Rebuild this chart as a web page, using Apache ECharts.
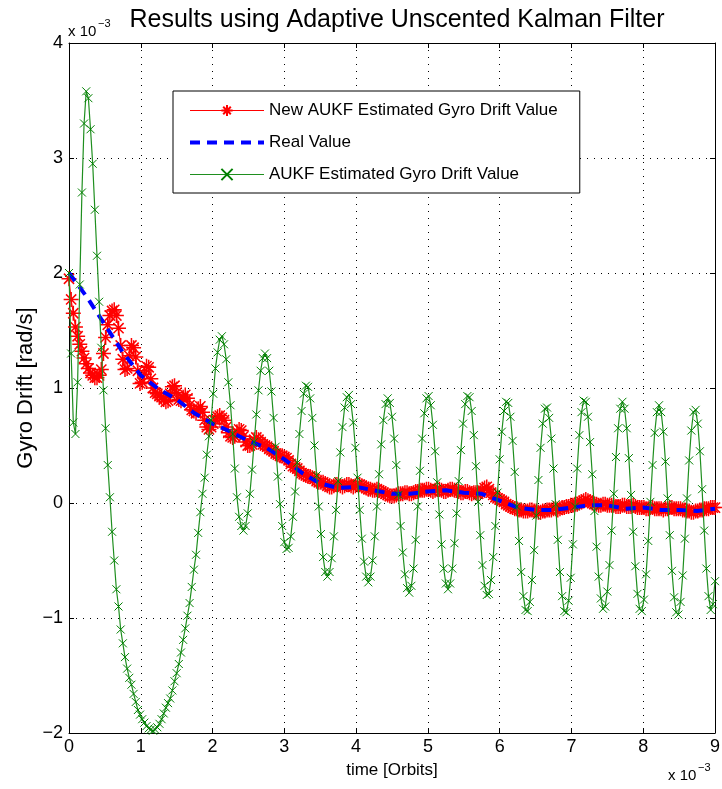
<!DOCTYPE html>
<html>
<head>
<meta charset="utf-8">
<title>Results using Adaptive Unscented Kalman Filter</title>
<script src="https://cdn.jsdelivr.net/npm/echarts@6.0.0/dist/echarts.min.js"></script>
<style>
  html, body { margin: 0; padding: 0; background: #fff; }
  #main { width: 722px; height: 789px; }
</style>
</head>
<body>
<div id="main"></div>
<script>
// time axis is in units of 1e-3 orbits, drift in units of 1e-3 rad/s
var xTicks = [0, 1, 2, 3, 4, 5, 6, 7, 8, 9];
var yTicks = [-2, -1, 0, 1, 2, 3, 4];

// both filter estimates are sampled every 0.03 (x 1e-3 orbits), 10 samples per row
var sampleStep = 0.03;

var newAukf = [
  1.95, 1.77, 1.65, 1.53, 1.45, 1.38, 1.32, 1.26, 1.21, 1.17,
  1.13, 1.11, 1.09, 1.09, 1.11, 1.16, 1.30, 1.44, 1.55, 1.63,
  1.67, 1.68, 1.63, 1.52, 1.37, 1.25, 1.16, 1.17, 1.28, 1.37,
  1.35, 1.27, 1.15, 1.04, 1.05, 1.12, 1.19, 1.18, 1.08, 1.00,
  0.96, 0.95, 0.93, 0.92, 0.90, 0.88, 0.89, 0.95, 1.01, 1.02,
  0.96, 0.90, 0.89, 0.92, 0.94, 0.91, 0.85, 0.81, 0.80, 0.78,
  0.82, 0.84, 0.79, 0.72, 0.66, 0.64, 0.66, 0.69, 0.72, 0.75,
  0.76, 0.74, 0.72, 0.66, 0.61, 0.58, 0.57, 0.58, 0.62, 0.64,
  0.63, 0.58, 0.53, 0.50, 0.50, 0.51, 0.55, 0.57, 0.55, 0.53,
  0.51, 0.50, 0.49, 0.47, 0.46, 0.45, 0.43, 0.42, 0.41, 0.41,
  0.40, 0.39, 0.37, 0.34, 0.32, 0.31, 0.30, 0.28, 0.26, 0.25,
  0.24, 0.23, 0.23, 0.22, 0.21, 0.19, 0.18, 0.18, 0.18, 0.17,
  0.15, 0.14, 0.14, 0.15, 0.16, 0.16, 0.15, 0.14, 0.15, 0.16,
  0.16, 0.15, 0.14, 0.15, 0.16, 0.16, 0.15, 0.14, 0.13, 0.12,
  0.12, 0.11, 0.11, 0.12, 0.11, 0.10, 0.09, 0.08, 0.07, 0.06,
  0.06, 0.06, 0.07, 0.08, 0.08, 0.08, 0.09, 0.09, 0.08, 0.08,
  0.09, 0.10, 0.10, 0.11, 0.11, 0.11, 0.12, 0.12, 0.11, 0.10,
  0.11, 0.12, 0.12, 0.11, 0.10, 0.10, 0.11, 0.12, 0.12, 0.11,
  0.11, 0.10, 0.09, 0.09, 0.10, 0.10, 0.09, 0.08, 0.09, 0.09,
  0.08, 0.09, 0.11, 0.13, 0.14, 0.12, 0.09, 0.07, 0.05, 0.04,
  0.03, 0.02, 0.01, -0.01, -0.02, -0.03, -0.04, -0.05, -0.05, -0.06,
  -0.06, -0.07, -0.07, -0.07, -0.06, -0.06, -0.07, -0.07, -0.08, -0.08,
  -0.07, -0.07, -0.06, -0.06, -0.06, -0.05, -0.05, -0.06, -0.05, -0.04,
  -0.04, -0.03, -0.03, -0.02, -0.02, -0.01, -0.01, 0.00, 0.01, 0.02,
  0.03, 0.02, 0.01, 0.00, -0.01, -0.01, -0.02, -0.02, -0.01, -0.01,
  -0.02, -0.02, -0.02, -0.02, -0.03, -0.03, -0.03, -0.02, -0.02, -0.03,
  -0.03, -0.03, -0.02, -0.03, -0.04, -0.04, -0.04, -0.04, -0.05, -0.05,
  -0.04, -0.04, -0.05, -0.05, -0.05, -0.05, -0.06, -0.05, -0.05, -0.04,
  -0.04, -0.05, -0.05, -0.05, -0.05, -0.06, -0.06, -0.07, -0.07, -0.08,
  -0.08, -0.07, -0.07, -0.06, -0.06, -0.05, -0.05, -0.05, -0.04, -0.04,
  -0.04
];

var aukf = [
  2.00, 1.30, 0.70, 0.60, 1.05, 1.90, 2.70, 3.30, 3.58, 3.52,
  3.25, 2.95, 2.55, 2.15, 1.75, 1.35, 0.98, 0.65, 0.33, 0.05,
  -0.25, -0.50, -0.75, -0.90, -1.10, -1.22, -1.34, -1.44, -1.52, -1.58,
  -1.66, -1.73, -1.80, -1.84, -1.88, -1.91, -1.94, -1.96, -1.97, -1.98,
  -1.97, -1.95, -1.92, -1.88, -1.83, -1.78, -1.74, -1.70, -1.63, -1.55,
  -1.48, -1.40, -1.30, -1.19, -1.09, -0.98, -0.87, -0.73, -0.58, -0.45,
  -0.26, -0.08, 0.08, 0.22, 0.42, 0.58, 0.72, 0.95, 1.17, 1.31,
  1.42, 1.45, 1.38, 1.25, 1.05, 0.85, 0.60, 0.30, 0.05, -0.12,
  -0.20, -0.24, -0.20, -0.09, 0.08, 0.29, 0.53, 0.77, 0.98, 1.15,
  1.26, 1.30, 1.26, 1.15, 0.97, 0.74, 0.49, 0.23, -0.01, -0.20,
  -0.34, -0.40, -0.39, -0.29, -0.12, 0.10, 0.35, 0.60, 0.80, 0.95,
  1.02, 1.01, 0.91, 0.74, 0.50, 0.24, -0.03, -0.27, -0.47, -0.60,
  -0.64, -0.60, -0.48, -0.29, -0.06, 0.19, 0.44, 0.66, 0.83, 0.92,
  0.94, 0.86, 0.70, 0.48, 0.22, -0.06, -0.31, -0.51, -0.64, -0.69,
  -0.64, -0.50, -0.29, -0.03, 0.25, 0.51, 0.72, 0.86, 0.91, 0.87,
  0.75, 0.56, 0.33, 0.07, -0.20, -0.43, -0.62, -0.74, -0.78, -0.72,
  -0.57, -0.32, -0.03, 0.28, 0.56, 0.78, 0.91, 0.93, 0.85, 0.68,
  0.45, 0.18, -0.10, -0.36, -0.57, -0.70, -0.75, -0.70, -0.57, -0.35,
  -0.09, 0.19, 0.46, 0.69, 0.86, 0.93, 0.92, 0.80, 0.59, 0.32,
  0.01, -0.28, -0.54, -0.72, -0.80, -0.79, -0.67, -0.47, -0.20, 0.09,
  0.38, 0.62, 0.80, 0.88, 0.87, 0.75, 0.54, 0.27, -0.03, -0.33,
  -0.60, -0.81, -0.93, -0.94, -0.86, -0.67, -0.41, -0.11, 0.20, 0.48,
  0.69, 0.82, 0.83, 0.74, 0.56, 0.30, -0.01, -0.32, -0.60, -0.81,
  -0.94, -0.95, -0.85, -0.65, -0.36, -0.03, 0.30, 0.59, 0.79, 0.89,
  0.88, 0.75, 0.53, 0.25, -0.07, -0.38, -0.64, -0.83, -0.92, -0.90,
  -0.77, -0.54, -0.24, 0.08, 0.40, 0.65, 0.82, 0.88, 0.82, 0.65,
  0.39, 0.07, -0.25, -0.55, -0.79, -0.92, -0.94, -0.84, -0.62, -0.33,
  0.01, 0.33, 0.61, 0.79, 0.85, 0.79, 0.62, 0.36, 0.04, -0.28,
  -0.59, -0.82, -0.95, -0.97, -0.86, -0.63, -0.31, 0.04, 0.37, 0.63,
  0.79, 0.81, 0.69, 0.45, 0.12, -0.24, -0.57, -0.81, -0.93, -0.88,
  -0.68
];

// real drift, read every 0.25
var realTime = [
  0, 0.25, 0.5, 0.75, 1, 1.25, 1.5, 1.75, 2, 2.25, 2.5, 2.75, 3,
  3.25, 3.5, 3.75, 4, 4.25, 4.5, 4.75, 5, 5.25, 5.5, 5.75, 6,
  6.25, 6.5, 6.75, 7, 7.25, 7.5, 7.75, 8, 8.25, 8.5, 8.75, 9
];
var realValue = [
  2.00, 1.79, 1.55, 1.31, 1.11, 0.99, 0.90, 0.78, 0.69, 0.62, 0.54, 0.48, 0.38,
  0.26, 0.17, 0.13, 0.14, 0.11, 0.08, 0.08, 0.10, 0.11, 0.09, 0.08, 0.02,
  -0.04, -0.06, -0.06, -0.04, -0.02, -0.02, -0.05, -0.04, -0.06, -0.06, -0.07, -0.05
];

var FONT = 'Liberation Sans, Arial, Helvetica, sans-serif';
var STAR = 'path://M0,5L10,5M5,0L5,10M1.6,1.6L8.4,8.4M1.6,8.4L8.4,1.6';
var CROSS = 'path://M0,0L10,10M0,10L10,0';

function withTime(values) {
  return values.map(function (v, i) {
    return [Math.round(i * sampleStep * 100) / 100, v];
  });
}

function minusSign(v) {
  return v < 0 ? '\u2212' + Math.abs(v) : String(v);
}

var myChart = echarts.init(document.getElementById('main'), null, { renderer: 'canvas' });

var gridLine = { show: true, lineStyle: { color: '#000', width: 1, type: [1, 6] } };
var boxLine = { show: true, onZero: false, lineStyle: { color: '#000', width: 1 } };
var innerTick = { show: true, inside: true, length: 5, lineStyle: { color: '#000', width: 1 } };

var option = {
  animation: false,
  backgroundColor: '#fff',
  title: {
    text: 'Results using Adaptive Unscented Kalman Filter',
    left: 392,
    top: 3,
    textAlign: 'center',
    textStyle: { fontFamily: FONT, fontSize: 25, fontWeight: 'normal', color: '#000' }
  },
  legend: {
    orient: 'vertical',
    left: 173,
    top: 91,
    padding: [11, 22, 10, 15],
    itemWidth: 74,
    itemHeight: 14,
    itemGap: 15,
    backgroundColor: '#fff',
    borderColor: '#000',
    borderWidth: 1,
    lineStyle: { width: 'inherit' },
    textStyle: { fontFamily: FONT, fontSize: 17, color: '#000' },
    data: ['New AUKF Estimated Gyro Drift Value', 'Real Value', 'AUKF Estimated Gyro Drift Value']
  },
  grid: {
    left: 69,
    right: 7,
    top: 43,
    bottom: 56,
    outerBoundsMode: 'none'
  },
  xAxis: [
    {
      type: 'value',
      min: xTicks[0],
      max: xTicks[xTicks.length - 1],
      interval: 1,
      position: 'bottom',
      name: 'time [Orbits]',
      nameLocation: 'middle',
      nameGap: 29,
      nameMoveOverlap: false,
      nameTextStyle: { fontFamily: FONT, fontSize: 17, color: '#000' },
      axisLine: boxLine,
      axisTick: innerTick,
      axisLabel: { color: '#000', fontFamily: FONT, fontSize: 18, margin: 5 },
      splitLine: gridLine
    },
    {
      type: 'value',
      min: xTicks[0],
      max: xTicks[xTicks.length - 1],
      interval: 1,
      position: 'top',
      axisLine: boxLine,
      axisTick: innerTick,
      axisLabel: { show: false },
      splitLine: { show: false }
    }
  ],
  yAxis: [
    {
      type: 'value',
      min: yTicks[0],
      max: yTicks[yTicks.length - 1],
      interval: 1,
      position: 'left',
      name: 'Gyro Drift [rad/s]',
      nameLocation: 'middle',
      nameGap: 32,
      nameMoveOverlap: false,
      nameTextStyle: { fontFamily: FONT, fontSize: 22, color: '#000' },
      axisLine: boxLine,
      axisTick: innerTick,
      axisLabel: { color: '#000', fontFamily: FONT, fontSize: 18, margin: 6, formatter: minusSign },
      splitLine: gridLine
    },
    {
      type: 'value',
      min: yTicks[0],
      max: yTicks[yTicks.length - 1],
      interval: 1,
      position: 'right',
      axisLine: boxLine,
      axisTick: innerTick,
      axisLabel: { show: false },
      splitLine: { show: false }
    }
  ],
  graphic: [
    { type: 'text', left: 68, top: 24, style: { text: 'x 10', font: '15px ' + FONT, fill: '#000' } },
    { type: 'text', left: 98, top: 18, style: { text: '\u22123', font: '11px ' + FONT, fill: '#000' } },
    { type: 'text', left: 668, top: 768, style: { text: 'x 10', font: '15px ' + FONT, fill: '#000' } },
    { type: 'text', left: 698, top: 762, style: { text: '\u22123', font: '11px ' + FONT, fill: '#000' } }
  ],
  series: [
    {
      name: 'New AUKF Estimated Gyro Drift Value',
      type: 'line',
      z: 2,
      xAxisIndex: 0,
      yAxisIndex: 0,
      data: withTime(newAukf),
      symbol: STAR,
      symbolSize: 15,
      showAllSymbol: true,
      lineStyle: { color: '#ff0000', width: 1 },
      itemStyle: { color: '#ff0000', borderColor: '#ff0000', borderWidth: 1.5 }
    },
    {
      name: 'Real Value',
      type: 'line',
      z: 3,
      xAxisIndex: 0,
      yAxisIndex: 0,
      data: realTime.map(function (t, i) { return [t, realValue[i]]; }),
      symbol: 'rect',
      showSymbol: false,
      lineStyle: { color: '#0000ff', width: 4, type: [10, 7] },
      itemStyle: { color: 'rgba(0,0,255,0)', borderWidth: 0 }
    },
    {
      name: 'AUKF Estimated Gyro Drift Value',
      type: 'line',
      z: 4,
      xAxisIndex: 0,
      yAxisIndex: 0,
      data: withTime(aukf),
      symbol: CROSS,
      symbolSize: 8,
      showAllSymbol: true,
      lineStyle: { color: '#1f8f1f', width: 1.2 },
      itemStyle: { color: '#008000', borderColor: '#008000', borderWidth: 1 }
    }
  ]
};

myChart.setOption(option);
</script>
</body>
</html>
